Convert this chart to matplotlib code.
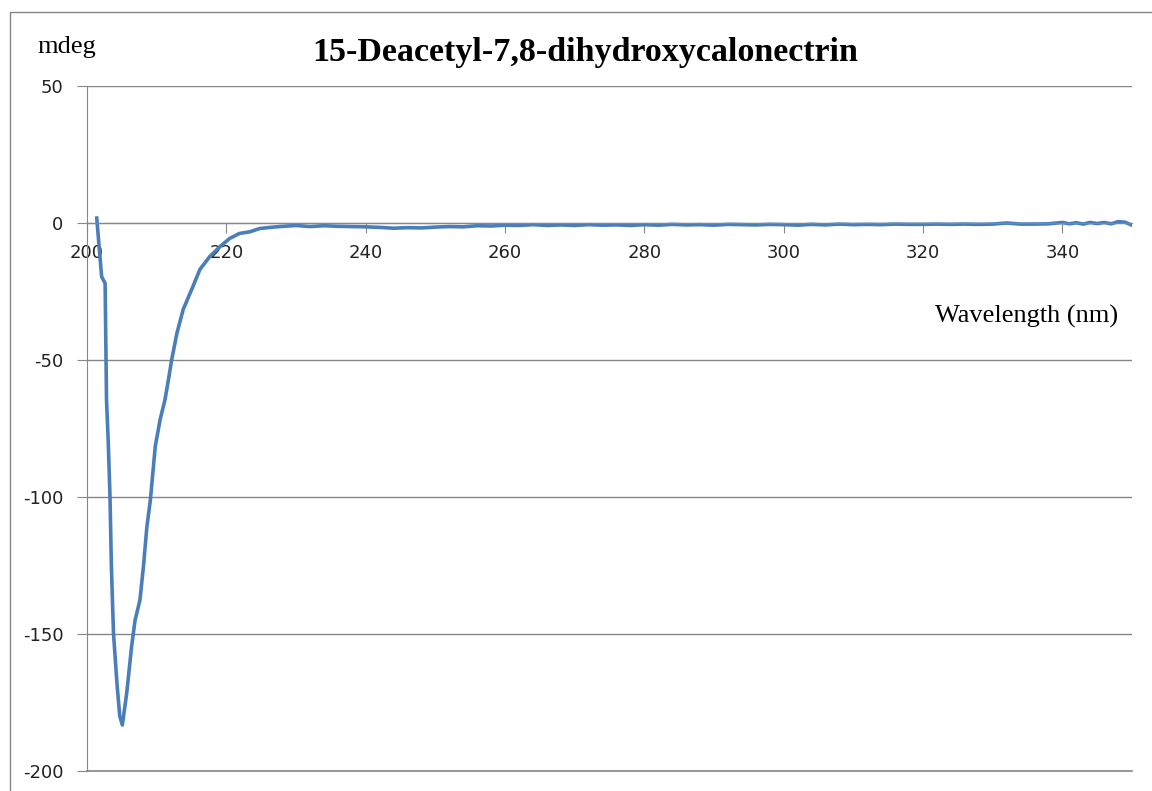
import matplotlib.pyplot as plt
from matplotlib.patches import Rectangle

# CD spectrum, wavelength (nm) vs ellipticity (mdeg)
wavelength = [201.4, 202.1, 202.6, 202.8, 203.05, 203.3, 203.5, 203.8, 204.3, 204.7,
              205.07, 205.7, 206.4, 206.9, 207.6, 208.1, 208.6, 209.1, 209.8, 210.5,
              211.2, 211.7, 212.15, 212.9, 213.8, 215.2, 216.2, 217.6, 219.1, 220.5,
              221.9, 223.4, 224.8, 226.3, 227.7,
              230, 232, 234, 236, 238, 240, 242, 244, 246, 248, 250, 252, 254, 256, 258,
              260, 262, 264, 266, 268, 270, 272, 274, 276, 278, 280, 282, 284, 286, 288,
              290, 292, 294, 296, 298, 300, 302, 304, 306, 308, 310, 312, 314, 316, 318,
              320, 322, 324, 326, 328, 330, 332, 334, 336, 338, 340, 341, 342, 343, 344,
              345, 346, 347, 348, 349, 350]
mdeg = [1.8, -19.6, -22.0, -64.4, -80.0, -99.8, -125.4, -149.6, -168.0, -180.0,
        -183.2, -171.6, -154.6, -145.0, -137.6, -125.4, -110.8, -101.0, -81.5, -71.7,
        -64.4, -57.0, -50.0, -40.3, -31.6, -23.2, -17.0, -12.3, -8.6, -5.6,
        -3.8, -3.2, -2.0, -1.6, -1.3,
        -0.9, -1.3, -1.0, -1.2, -1.3, -1.4, -1.6, -1.9, -1.7, -1.8, -1.5, -1.3, -1.4, -1.0, -1.1,
        -0.8, -0.9, -0.6, -0.9, -0.7, -0.9, -0.6, -0.8, -0.7, -0.9, -0.6, -0.8, -0.5, -0.7, -0.6,
        -0.8, -0.5, -0.6, -0.7, -0.5, -0.6, -0.8, -0.5, -0.7, -0.4, -0.6, -0.5, -0.6, -0.4, -0.5,
        -0.5, -0.4, -0.5, -0.4, -0.5, -0.4, 0.0, -0.4, -0.4, -0.3, 0.2, -0.3, 0.1, -0.4, 0.2,
        -0.2, 0.2, -0.3, 0.5, 0.3, -0.8]

x_ticks = [200, 220, 240, 260, 280, 300, 320, 340]
y_ticks = [-200, -150, -100, -50, 0, 50]

grey = "#868686"
serif = "Liberation Serif"
plt.rcParams["axes.unicode_minus"] = False

fig = plt.figure(figsize=(11.52, 7.91), dpi=100)
W, H = 1152, 791

# outer chart frame
fig.patches.append(Rectangle((10 / W, -0.1), 1.2, 1 - 12 / H + 0.1,
                             transform=fig.transFigure, fill=False,
                             edgecolor=grey, linewidth=1.0))

ax = fig.add_axes([87 / W, 1 - 771 / H, (1132 - 87) / W, (771 - 86) / H])
ax.plot(wavelength, mdeg, color="#4A7EBB", linewidth=2.6, solid_joinstyle="round")

ax.set_xlim(200, 350)
ax.set_ylim(-200, 50)
ax.set_xticks(x_ticks)
ax.set_yticks(y_ticks)

ax.grid(axis="y", color=grey, linewidth=1.0)
ax.axhline(-200, color=grey, linewidth=1.2, clip_on=False, zorder=0.5)
ax.set_axisbelow(True)
for side in ["top", "right"]:
    ax.spines[side].set_visible(False)
ax.spines["bottom"].set_position(("data", 0))
ax.spines["bottom"].set_color(grey)
ax.spines["left"].set_color(grey)
ax.tick_params(axis="both", direction="out", length=7, color=grey,
               labelsize=13, labelcolor="#222222")
ax.tick_params(axis="x", pad=8)
ax.tick_params(axis="y", pad=10)

fig.text(585 / W, 1 - 52 / H, "15-Deacetyl-7,8-dihydroxycalonectrin",
         family=serif, fontweight="bold", fontsize=24.5, ha="center", va="center")
fig.text(37 / W, 1 - 47 / H, "mdeg", family=serif, fontsize=19,
         ha="left", va="center")
fig.text(1118 / W, 1 - 316 / H, "Wavelength (nm)", family=serif, fontsize=19,
         ha="right", va="center")

fig.savefig("out.png", dpi=100)
